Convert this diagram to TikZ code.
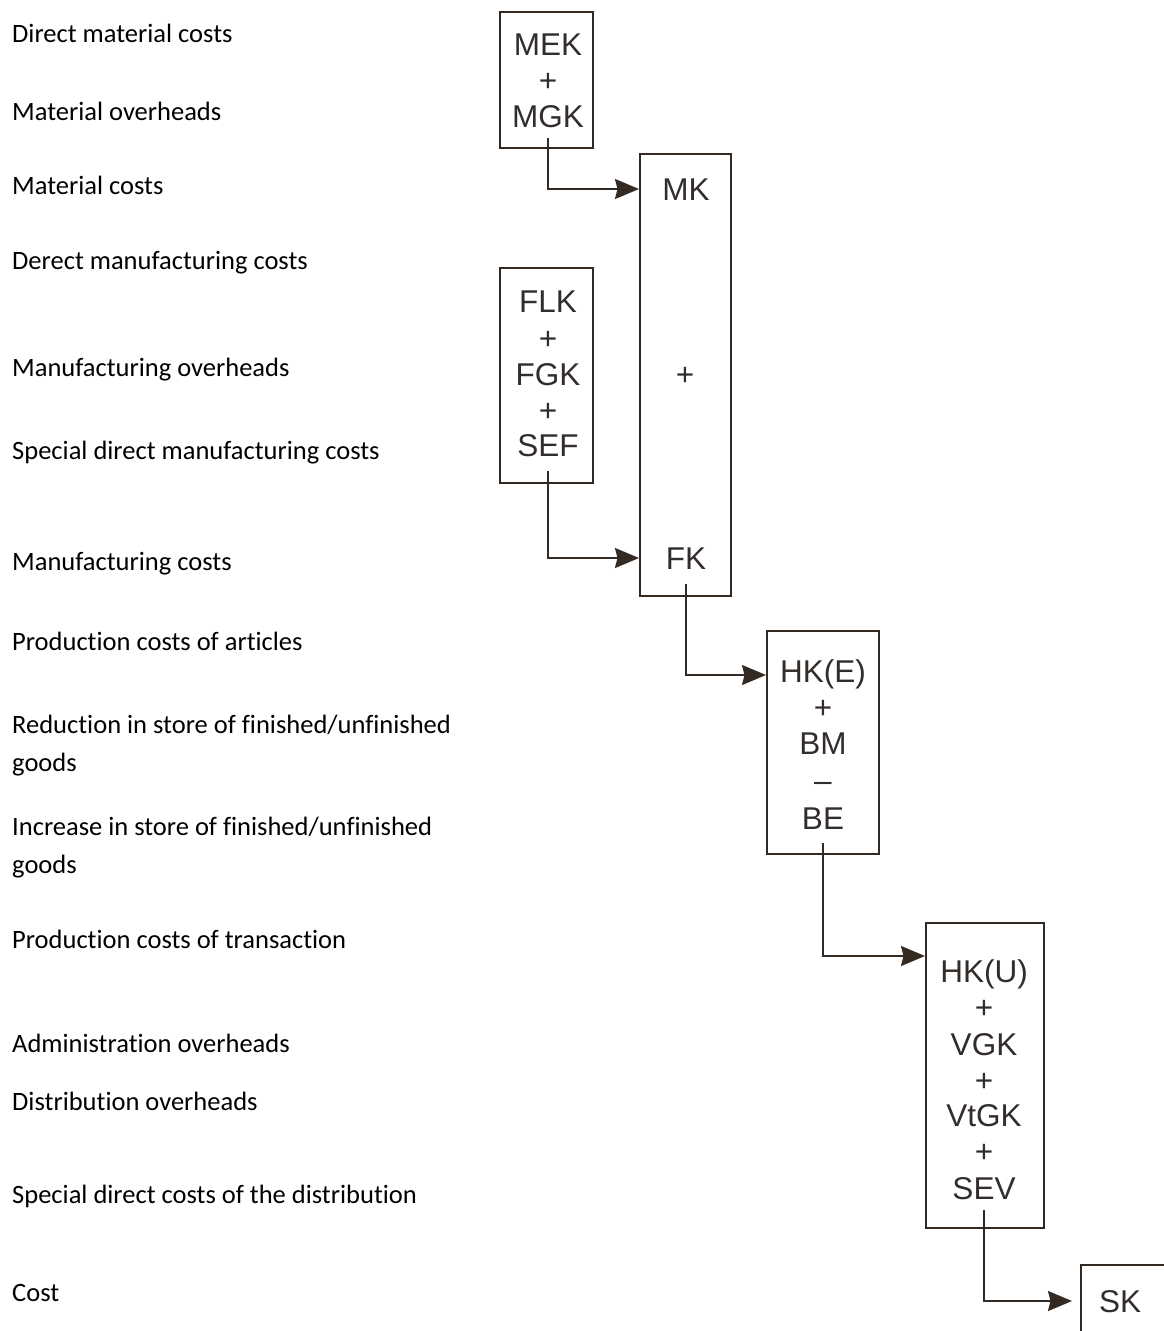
\documentclass[tikz,border=0pt]{standalone}
\usepackage{fontspec}
\setmainfont[Ligatures=NoCommon]{Carlito}
\newfontfamily\boxfont{Liberation Sans}
\usetikzlibrary{arrows.meta}
\definecolor{ink}{RGB}{52,42,36}
\definecolor{boxtext}{RGB}{50,45,42}
\begin{document}
\begin{tikzpicture}[x=1pt,y=-1pt,
  lbl/.style={anchor=base west,inner sep=0pt,font=\fontsize{26.5}{32}\selectfont},
  btxt/.style={inner sep=0pt,text height=22pt,text depth=0pt,text=boxtext,
    font=\boxfont\fontsize{31.5}{36}\selectfont},
  costbox/.style={draw=ink,line width=2pt,inner sep=0pt},
  arr/.style={draw=ink,line width=2pt,-{Stealth[length=24pt,width=20pt,inset=2.5pt]}}]
\useasboundingbox (0,0) rectangle (1164,1331);

% cost categories (left column)
\node[lbl] (l1)  at (12,42.5)  {Direct material costs};
\node[lbl] (l2)  at (12,120.5) {Material overheads};
\node[lbl] (l3)  at (12,194.5) {Material costs};
\node[lbl] (l4)  at (12,269.5) {Derect manufacturing costs};
\node[lbl] (l5)  at (12,376.5) {Manufacturing overheads};
\node[lbl] (l6)  at (12,459.5) {Special direct manufacturing costs};
\node[lbl] (l7)  at (12,570.5) {Manufacturing costs};
\node[lbl] (l8)  at (12,650.5) {Production costs of articles};
\node[lbl] (l9a) at (12,733.5) {Reduction in store of finished/unfinished};
\node[lbl] (l9b) at (12,771.5) {goods};
\node[lbl] (l10a) at (12,835.5) {Increase in store of finished/unfinished};
\node[lbl] (l10b) at (12,873.5) {goods};
\node[lbl] (l11) at (12,948.5)  {Production costs of transaction};
\node[lbl] (l12) at (12,1052.5) {Administration overheads};
\node[lbl] (l13) at (12,1110.5) {Distribution overheads};
\node[lbl] (l14) at (12,1203.5) {Special direct costs of the distribution};
\node[lbl] (l15) at (12,1301.5) {Cost};

% boxes
\node[costbox,minimum width=93pt,minimum height=136pt] (b1) at (546.5,80) {};
\node[costbox,minimum width=91pt,minimum height=442pt] (b2) at (685.5,375) {};
\node[costbox,minimum width=93pt,minimum height=215pt] (b3) at (546.5,375.5) {};
\node[costbox,minimum width=112pt,minimum height=223pt] (b4) at (823,742.5) {};
\node[costbox,minimum width=118pt,minimum height=305pt] (b5) at (985,1075.5) {};
\node[costbox,minimum width=130pt,minimum height=100pt] (b6) at (1146,1315) {};

% box contents
\node[btxt] (mek) at (548,44)  {MEK};
\node[btxt] (p1)  at (548,80)  {+};
\node[btxt] (mgk) at (548,116) {MGK};

\node[btxt] (mk)  at (686,189) {MK};
\node[btxt] (p2)  at (685,374) {+};
\node[btxt] (fk)  at (686,558) {FK};

\node[btxt] (flk) at (548,301) {FLK};
\node[btxt] (p3)  at (548,338) {+};
\node[btxt] (fgk) at (548,374) {FGK};
\node[btxt] (p4)  at (548,410) {+};
\node[btxt] (sef) at (548,445) {SEF};

\node[btxt] (hke) at (823,671) {HK(E)};
\node[btxt] (p5)  at (823,707) {+};
\node[btxt] (bm)  at (823,743) {BM};
\node[btxt] (m1)  at (823,780) {–};
\node[btxt] (be)  at (823,818) {BE};

\node[btxt] (hku)  at (984,971)  {HK(U)};
\node[btxt] (p6)   at (984,1007) {+};
\node[btxt] (vgk)  at (984,1044) {VGK};
\node[btxt] (p7)   at (984,1080) {+};
\node[btxt] (vtgk) at (984,1115) {VtGK};
\node[btxt] (p8)   at (984,1151) {+};
\node[btxt] (sev)  at (984,1188) {SEV};

\node[btxt] (sk) at (1120,1301) {SK};

% flow arrows
\draw[arr] ([yshift=-11pt]mgk.south) |- (mk -| b2.west);
\draw[arr] ([yshift=-15pt]sef.south) |- (fk -| b2.west);
\draw[arr] ([yshift=-15pt]fk.south) |- ([yshift=-4pt]hke.center -| b4.west);
\draw[arr] ([yshift=-14pt]be.south) |- ([yshift=15pt]hku.center -| b5.west);
\coordinate (skin) at ([xshift=-8pt]sk.center -| b6.west);
\draw[arr] ([yshift=-11pt]sev.south) |- (skin);
\end{tikzpicture}
\end{document}
